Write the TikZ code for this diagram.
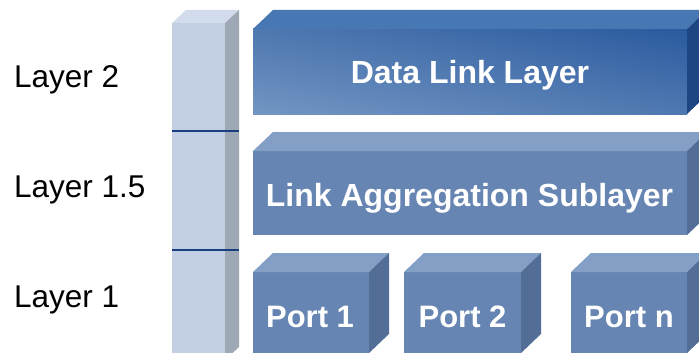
\documentclass[tikz,border=0pt]{standalone}
\usepackage{fontspec}
\setmainfont{Liberation Sans}
\definecolor{dllTop}{HTML}{4878B3}
\definecolor{dllSide}{HTML}{1D4683}
\definecolor{dllLight}{HTML}{7396C3}
\definecolor{dllMid}{HTML}{5078AE}
\definecolor{dllDark}{HTML}{2A5A9E}
\definecolor{blkFront}{HTML}{6685B2}
\definecolor{blkTop}{HTML}{849FC5}
\definecolor{blkSide}{HTML}{526D96}
\definecolor{colFront}{HTML}{C3CFE3}
\definecolor{colTop}{HTML}{D3DCEC}
\definecolor{colSide}{HTML}{9FA9B6}
\definecolor{sepLine}{HTML}{1A3F80}
\tikzset{
  face/.style={draw=none, inner sep=0pt, outer sep=0pt},
  boxlabel/.style={text=white, font=\fontsize{32}{37}\selectfont\bfseries, inner sep=0pt, anchor=base},
  portlabel/.style={boxlabel, font=\fontsize{31}{36}\selectfont\bfseries},
  layerlabel/.style={text=black, font=\fontsize{31.5}{36}\selectfont, inner sep=0pt, anchor=base west},
  sepline/.style={draw=sepLine, line width=1.6pt}
}
% #1 node name, #2 depth dx, #3 depth dy, #4 width, #5 height, #6 top colour, #7 side colour
\newcommand{\cubefaces}[7]{%
  \fill[#6] (#1.north west) -- ++(#2,-#3) -- ++(#4,0) -- (#1.north east) -- cycle;
  \fill[#7] (#1.north east) -- ++(#2,-#3) -- ++(0,#5) -- (#1.south east) -- cycle;
}
\begin{document}
\begin{tikzpicture}[x=1pt,y=-1pt]
\useasboundingbox (0,0) rectangle (699,353);
\clip (0,0) rectangle (699,353);

% vertical layer column
\node[face, fill=colFront, minimum width=53pt, minimum height=337pt] (col) at (198.5,191.5) {};
\cubefaces{col}{14}{13}{53}{337}{colTop}{colSide}
\draw[sepline] (col.west |- 0,130.7) -- ++(67,0);
\draw[sepline] (col.west |- 0,250) -- ++(67,0);

% data link layer block: diagonal gradient on the front face
\node[face, minimum width=434pt, minimum height=85pt] (dll) at (470,71.5) {};
\begin{scope}
  \clip (dll.south west) rectangle (dll.north east);
  \shade[transform canvas={shift={(470,71.5)}, rotate=-11},
         top color=dllDark, middle color=dllMid, bottom color=dllLight]
    (-240,-84) rectangle (240,84);
\end{scope}
\cubefaces{dll}{20}{19}{434}{85}{dllTop}{dllSide}
\node[boxlabel] (dllText) at (470,83.3) {Data Link Layer};

% link aggregation sublayer block
\node[face, fill=blkFront, minimum width=434pt, minimum height=84pt] (las) at (470,193) {};
\cubefaces{las}{20}{19}{434}{84}{blkTop}{blkSide}
\node[boxlabel] (lasText) at (469.5,206) {Link Aggregation Sublayer};

% port blocks
\node[face, fill=blkFront, minimum width=116pt, minimum height=81pt] (p1) at (311,312.5) {};
\cubefaces{p1}{20}{19}{116}{81}{blkTop}{blkSide}
\node[portlabel] (p1Text) at (310,327.3) {Port 1};

\node[face, fill=blkFront, minimum width=117pt, minimum height=81pt] (p2) at (462.5,312.5) {};
\cubefaces{p2}{20}{19}{117}{81}{blkTop}{blkSide}
\node[portlabel] (p2Text) at (462.5,327.3) {Port 2};

\node[face, fill=blkFront, minimum width=116pt, minimum height=81pt] (pn) at (629,312.5) {};
\cubefaces{pn}{20}{19}{116}{81}{blkTop}{blkSide}
\node[portlabel] (pnText) at (629,327.3) {Port n};

% layer names
\node[layerlabel] (l2) at (14,87.7) {Layer 2};
\node[layerlabel] (l15) at (14,197.3) {Layer 1.5};
\node[layerlabel] (l1) at (14,307.3) {Layer 1};
\end{tikzpicture}
\end{document}
